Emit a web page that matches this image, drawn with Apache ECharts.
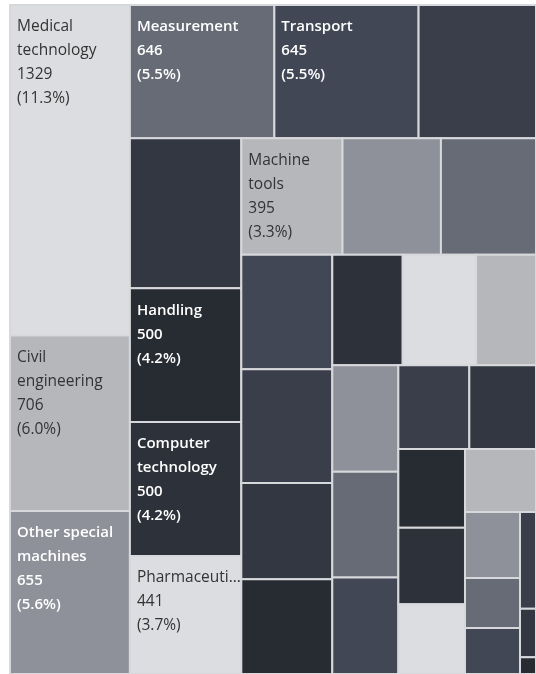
<!DOCTYPE html>
<html>
<head>
<meta charset="utf-8">
<script src="https://cdn.jsdelivr.net/npm/echarts@6/dist/echarts.min.js"></script>
<style>
  html, body { margin: 0; padding: 0; background: #ffffff; }
  #chart { width: 536px; height: 674px; }
</style>
</head>
<body>
<div id="chart"></div>
<script>
// ---- Data (in drawing order; unlabeled cells have an empty name) ----
const names = [
  'Medical technology', 'Civil engineering', 'Other special machines',
  'Measurement', 'Transport', '',
  '', 'Handling', 'Computer technology', 'Pharmaceuticals',
  'Machine tools', '', '',
  '', '', '', '',
  '', '', '',
  '', '', '',
  '', '',
  '', '', '',
  '',
  '', '', '',
  '',
  '', ''
];
const values = [
  1329, 706, 655,
  646, 645, 525,
  560, 500, 500, 441,
  395, 384, 371,
  349, 347, 294, 289,
  261, 272, 222,
  236, 234, 214,
  199, 187,
  176, 171, 156,
  150,
  122, 92, 85,
  52,
  26, 9
];
// number of cells in each strip; strips alternate vertical / horizontal
const stripSizes = [3, 3, 4, 3, 4, 3, 3, 2, 3, 1, 3, 1, 2];

// ---- Styles ----
const palette = ['#dcdde0', '#b5b7bb', '#8e9199', '#666b75', '#424755',
                 '#3a3e4a', '#323741', '#272b32', '#2d3139'];
const lightIdx = [0, 1];

// ---- Layout in unit space (alternating strips) ----
function stripLayout(vals, sizes) {
  const total = vals.reduce((a, b) => a + b, 0);
  let x = 0, y = 0, w = 1, h = 1, remaining = total, k = 0;
  const rects = [];
  sizes.forEach((n, s) => {
    const items = vals.slice(k, k + n);
    const sum = items.reduce((a, b) => a + b, 0);
    const frac = sum / remaining;
    if (s % 2 === 0) {
      const sw = w * frac;
      let cy = y;
      items.forEach(v => {
        const ih = h * v / sum;
        rects.push([x, cy, x + sw, cy + ih]);
        cy += ih;
      });
      x += sw; w -= sw;
    } else {
      const sh = h * frac;
      let cx = x;
      items.forEach(v => {
        const iw = w * v / sum;
        rects.push([cx, y, cx + iw, y + sh]);
        cx += iw;
      });
      y += sh; h -= sh;
    }
    remaining -= sum;
    k += n;
  });
  return { rects, total };
}

const lay = stripLayout(values, stripSizes);
const seriesData = lay.rects.map((r, i) => ({
  name: names[i],
  value: [r[0], r[1], r[2], r[3], i, values[i]]
}));

function renderItem(params, api) {
  const i = api.value(4);
  const a = api.coord([api.value(0), api.value(1)]);
  const b = api.coord([api.value(2), api.value(3)]);
  const rect = {
    x: Math.min(a[0], b[0]), y: Math.min(a[1], b[1]),
    width: Math.abs(b[0] - a[0]), height: Math.abs(b[1] - a[1])
  };
  const ci = i % palette.length;
  const isLight = lightIdx.indexOf(ci) >= 0;
  const el = {
    type: 'rect',
    shape: rect,
    style: { fill: palette[ci], stroke: '#d7d8db', lineWidth: 2 }
  };
  const nm = names[i];
  if (nm) {
    const v = values[i];
    const pct = (v / lay.total * 100).toFixed(1);
    const wraps = nm.indexOf(' ') >= 0;
    el.textContent = {
      type: 'text',
      style: {
        text: nm + '\n' + v + '\n(' + pct + '%)',
        fill: isLight ? '#333333' : '#ffffff',
        fontFamily: '"Open Sans", sans-serif',
        fontSize: isLight ? 15.5 : 15,
        fontWeight: isLight ? 'normal' : 600,
        lineHeight: 24,
        width: Math.max(rect.width - (wraps ? 12 : 4), 0),
        overflow: wraps ? 'break' : 'truncate',
        ellipsis: '...'
      }
    };
    el.textConfig = { position: [8, 11] };
  }
  return el;
}

const chart = echarts.init(document.getElementById('chart'), null, { renderer: 'canvas' });
chart.setOption({
  animation: false,
  backgroundColor: '#ffffff',
  grid: { left: 10, top: 5, right: 0, bottom: 0 },
  xAxis: { type: 'value', min: 0, max: 1, show: false },
  yAxis: { type: 'value', min: 0, max: 1, inverse: true, show: false },
  series: [{
    type: 'custom',
    renderItem: renderItem,
    encode: { x: [0, 2], y: [1, 3] },
    data: seriesData
  }]
});
</script>
</body>
</html>
